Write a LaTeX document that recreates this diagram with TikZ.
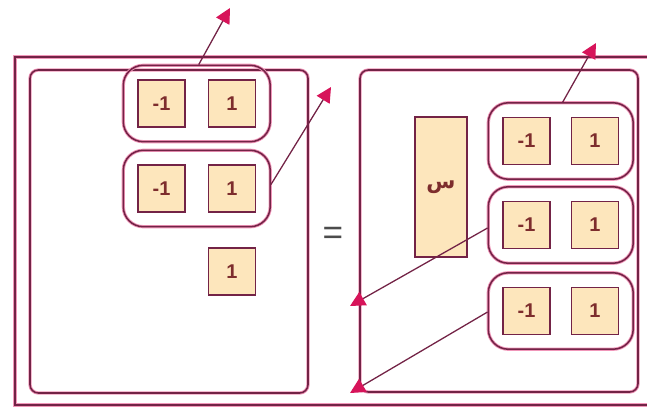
\documentclass[tikz,border=0pt]{standalone}
\usepackage{fontspec}
\setmainfont{Liberation Sans}
\newfontfamily\arabicfont[Script=Arabic]{DejaVu Sans}
\definecolor{framedark}{RGB}{115, 35, 70}
\definecolor{framepink}{RGB}{240, 150, 185}
\definecolor{tilefill}{RGB}{253, 230, 188}
\definecolor{tiletext}{RGB}{125, 45, 45}
\definecolor{arrowred}{RGB}{215, 20, 90}
\usetikzlibrary{shapes, arrows.meta, positioning, calc, fit}

\begin{document}
\begin{tikzpicture}[x=0.03cm, y=-0.03cm,
  halo/.style={preaction={draw=framepink, line width=2.8pt}},
  tile/.style={draw=framedark, fill=tilefill, line width=1.2pt, minimum size=1.41cm, inner sep=0pt, text=tiletext, font=\fontsize{17}{20}\selectfont\bfseries},
  grp/.style={halo, draw=framedark, line width=1.3pt, rounded corners=0.6cm, inner xsep=0.42cm, inner ysep=0.42cm},
  panel/.style={halo, draw=framedark, line width=1.3pt, rounded corners=0.25cm},
  link/.style={draw=framedark, line width=1.1pt, -{Triangle[length=0.45cm, width=0.45cm, color=arrowred]}}]
  \useasboundingbox (0, 0) rectangle (647, 413);

  % Outer frame (runs off the right edge)
  \draw[halo, framedark, line width=1.2pt] (647, 57) -- (15, 57) -- (15, 405) -- (647, 405);

  % Panels
  \draw[panel] (30, 70) rectangle (308, 393);
  \draw[panel] (360, 70) rectangle (638, 392);

  % Left side
  \node[tile] (lam) at (161.5, 103.5) {-1};
  \node[tile] (lap) at (232, 103.5) {1};
  \node[grp, fit=(lam)(lap)] (lga) {};
  \node[tile] (lbm) at (161.5, 188.5) {-1};
  \node[tile] (lbp) at (232, 188.5) {1};
  \node[grp, fit=(lbm)(lbp)] (lgb) {};
  \node[tile] (lone) at (232, 271.5) {1};

  % Equals
  \node[text=black!70, font=\fontsize{30}{32}\selectfont] (eq) at (333, 236) {=};

  % Right side
  \node[tile, minimum width=1.56cm, minimum height=4.2cm] (xbox) at (441, 187) {\arabicfont\fontsize{18}{20}\selectfont س};
  \node[tile] (ram) at (526.5, 141) {-1};
  \node[tile] (rap) at (595, 141) {1};
  \node[grp, fit=(ram)(rap)] (rga) {};
  \node[tile] (rbm) at (526.5, 225) {-1};
  \node[tile] (rbp) at (595, 225) {1};
  \node[grp, fit=(rbm)(rbp)] (rgb) {};
  \node[tile] (rcm) at (526.5, 311) {-1};
  \node[tile] (rcp) at (595, 311) {1};
  \node[grp, fit=(rcm)(rcp)] (rgc) {};

  % Arrows
  \coordinate (ea) at (230, 8);
  \coordinate (eb) at (331, 87);
  \coordinate (ec) at (596, 43);
  \coordinate (ed) at (350, 306);
  \coordinate (ee) at (350, 393);
  \draw[link] ($(lga.north)+(2, 0)$) -- (ea);
  \draw[link] ($(lgb.east)+(0, -4)$) -- (eb);
  \draw[link] ($(rga.north)+(2, 0)$) -- (ec);
  \draw[link] ($(rgb.west)+(0, 3)$) -- (ed);
  \draw[link] ($(rgc.west)+(0, 1)$) -- (ee);
\end{tikzpicture}
\end{document}
